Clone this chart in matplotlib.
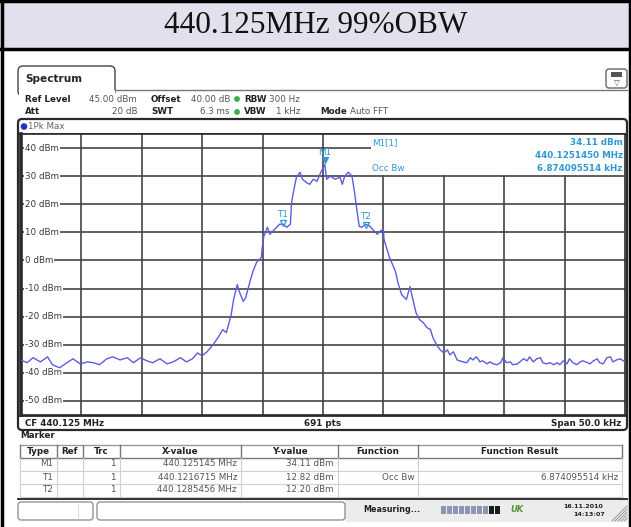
import matplotlib
matplotlib.use("Agg")
import matplotlib.pyplot as plt
from matplotlib.patches import Rectangle, FancyBboxPatch, Circle
import matplotlib.transforms as mtransforms

# ---------------- data ----------------
center_mhz = 440.125
span_khz = 50.0
n_points = 691
ref_level = 45.0
y_ticks = [40, 30, 20, 10, 0, -10, -20, -30, -40, -50]
x_grid_khz = [-20, -15, -10, -5, 0, 5, 10, 15, 20]

freq_khz = [-25.0, -24.5, -24.0, -23.4, -22.8, -22.4, -21.8, -21.2, -20.7, -20.1,
            -19.5, -19.0, -18.5, -17.9, -17.4, -16.8, -16.2, -15.7, -15.1, -14.6,
            -14.1, -13.5, -12.9, -12.4, -11.8, -11.3, -10.8, -10.4, -10.0, -9.6,
            -9.1, -8.7, -8.3, -8.0, -7.6, -7.4, -7.1, -6.9, -6.6, -6.4,
            -6.0, -5.8, -5.5, -5.1, -5.05, -4.9, -4.6, -4.4, -4.0, -3.6,
            -3.3, -3.0, -2.7, -2.6, -2.4, -2.2, -1.9, -1.7, -1.3, -1.1,
            -0.8, -0.5, -0.25, 0.15, 0.3, 0.6, 1.0, 1.4, 1.6, 1.8,
            2.1, 2.4, 2.6, 2.8, 3.0, 3.2, 3.55, 3.9, 4.1, 4.5,
            4.7, 5.0, 5.05, 5.3, 5.5, 6.0, 6.2, 6.5, 6.9, 7.2,
            7.5, 7.7, 8.0, 8.3, 8.6, 8.9, 9.1, 9.4, 9.7, 10.0,
            10.3, 10.5, 10.8, 11.1, 11.3, 11.6, 11.9, 12.2, 12.4, 12.7,
            13.0, 13.2, 13.6, 13.8, 14.1, 14.4, 14.7, 14.9, 15.2, 15.5,
            15.7, 16.1, 16.3, 16.6, 16.9, 17.1, 17.4, 17.7, 18.0, 18.2,
            18.5, 18.8, 19.1, 19.4, 19.6, 19.9, 20.2, 20.4, 20.7, 21.0,
            21.3, 21.5, 21.9, 22.1, 22.4, 22.7, 22.9, 23.2, 23.5, 23.8,
            24.0, 24.3, 24.6, 25.0]
level_dbm = [-35.4, -36.4, -34.6, -36.1, -34.3, -37.1, -38.2, -36.4, -35.0, -36.8,
             -36.1, -36.4, -37.1, -35.0, -34.3, -35.4, -34.6, -36.4, -34.6, -35.7,
             -36.4, -35.0, -36.8, -36.1, -34.6, -36.1, -35.0, -32.9, -33.9, -32.5,
             -30.0, -27.5, -24.6, -25.7, -19.3, -13.9, -8.6, -11.4, -14.6, -13.2,
             -6.8, -3.9, -0.7, 1.1, 3.9, 8.6, 11.8, 9.3, 11.1, 12.9,
             12.9, 11.8, 12.9, 20.7, 25.4, 29.6, 31.4, 28.9, 27.5, 27.1,
             28.9, 28.2, 30.7, 34.11, 28.9, 30.0, 28.9, 29.6, 27.1, 30.0,
             31.4, 30.0, 24.6, 18.2, 12.1, 11.8, 12.9, 12.1, 11.1, 9.3,
             10.4, 11.1, 7.5, 3.9, 1.1, -3.9, -7.9, -12.1, -13.9, -9.3,
             -15.0, -18.6, -21.1, -22.1, -23.9, -24.6, -27.5, -30.0, -31.8, -32.9,
             -31.8, -33.6, -32.5, -35.4, -35.7, -36.1, -36.4, -34.6, -35.4, -34.3,
             -36.1, -35.7, -36.8, -36.1, -36.8, -37.1, -36.4, -34.6, -36.4, -36.1,
             -37.1, -36.8, -36.1, -35.0, -35.7, -34.3, -36.1, -35.0, -34.6, -36.4,
             -36.8, -36.4, -37.1, -36.4, -37.1, -35.7, -36.8, -35.0, -36.4, -37.1,
             -36.1, -35.7, -36.4, -36.8, -35.7, -35.0, -36.4, -36.8, -34.6, -34.3,
             -36.1, -35.4, -35.0, -36.1]

marker_names = ["M1", "T1", "T2"]
marker_freq_mhz = [440.125145, 440.1216715, 440.1285456]
marker_dbm = [34.11, 12.82, 12.20]
marker_trc = [1, 1, 1]
marker_function = ["", "Occ Bw", ""]
occ_bw_khz = 6.874095514

# ---------------- figure ----------------
W, H = 631, 527
fig = plt.figure(figsize=(W / 100, H / 100), dpi=100)
plt.rcParams['font.family'] = ['DejaVu Sans']

bg = fig.add_axes([0, 0, 1, 1], zorder=0)
bg.set_xlim(0, W)
bg.set_ylim(H, 0)
bg.axis('off')

def fax(x0, y0, x1, y1):
    return [x0 / W, 1 - y1 / H, (x1 - x0) / W, (y1 - y0) / H]

DARK = '#2a2a2a'
GREY_TXT = '#555555'
CYAN = '#2f98d2'
FS = 6.3

# title band
bg.add_patch(Rectangle((0, 0), W, 48, facecolor='#e4dfec', edgecolor='none'))
bg.plot([0, W], [1.2, 1.2], color='black', lw=2.5)
bg.plot([0, W], [48.8, 48.8], color='black', lw=2.5)
bg.plot([1.5, 1.5], [0, H], color='black', lw=2.5)
bg.plot([629.5, 629.5], [0, H], color='black', lw=2.5)
bg.text(316, 25.5, "440.125MHz 99%OBW", family='Liberation Serif', fontsize=22.5,
        ha='center', va='center', color='#111111')

# Spectrum tab
tab = FancyBboxPatch((18, 66), 97, 30, boxstyle="round,pad=0,rounding_size=5",
                     facecolor='white', edgecolor='#444444', lw=1.0)
bg.add_patch(tab)
bg.add_patch(Rectangle((18.8, 89.5), 96, 8, facecolor='white', edgecolor='none'))
bg.plot([115, 627], [90, 90], color='#777777', lw=1.0)
bg.text(25, 78.5, "Spectrum", fontsize=7.6, fontweight='bold', va='center', color='#222222')

# top right icon
bg.add_patch(FancyBboxPatch((606, 69), 21, 19, boxstyle="round,pad=0,rounding_size=3",
                            facecolor='white', edgecolor='#666666', lw=1.0))
bg.add_patch(Rectangle((611, 72), 11, 5, facecolor='#555555', edgecolor='none'))
bg.text(616.5, 82.5, "▽", fontsize=5.5, ha='center', va='center', color='#555555')

# setting rows
def lab(x, y, s, bold=False, ha='left', color=None, fs=FS):
    bg.text(x, y, s, fontsize=fs, fontweight='bold' if bold else 'normal',
            ha=ha, va='center', color=color or ('#222222' if bold else GREY_TXT))

lab(25, 99, "Ref Level", True)
lab(137, 99, f"{ref_level:.2f} dBm", ha='right')
lab(151, 99, "Offset", True)
lab(230, 99, "40.00 dB", ha='right')
bg.add_patch(Circle((237, 99), 2.2, color='#3cae4a'))
lab(244, 99, "RBW", True)
lab(300, 99, "300 Hz", ha='right')
lab(25, 112, "Att", True)
lab(137, 112, "20 dB", ha='right')
lab(151, 112, "SWT", True)
lab(230, 112, "6.3 ms", ha='right')
bg.add_patch(Circle((237, 112), 2.2, color='#3cae4a'))
lab(244, 112, "VBW", True)
lab(300, 112, "1 kHz", ha='right')
lab(320, 112, "Mode", True)
lab(350, 112, "Auto FFT")

# graph outer rounded box
bg.add_patch(FancyBboxPatch((18, 119), 609, 311, boxstyle="round,pad=0,rounding_size=4",
                            facecolor='white', edgecolor=DARK, lw=1.6))
bg.add_patch(Circle((24, 126.5), 2.6, color='#2233cc'))
lab(28, 126.5, "1Pk Max", color='#666666')
bg.plot([18, 627], [133.5, 133.5], color=DARK, lw=1.3)
bg.plot([18, 627], [415.5, 415.5], color=DARK, lw=1.3)
bg.text(25, 423, f"CF {center_mhz:.3f} MHz", fontsize=FS, fontweight='bold', va='center', color='#222222')
bg.text(323, 423, f"{n_points} pts", fontsize=FS, fontweight='bold', va='center', ha='center', color='#222222')
bg.text(621, 423, f"Span {span_khz:.1f} kHz", fontsize=FS, fontweight='bold', va='center', ha='right', color='#222222')

# ---------------- spectrum plot ----------------
ax = fig.add_axes(fax(21, 134, 625, 415), zorder=1)
ax.set_xlim(-span_khz / 2, span_khz / 2)
ax.set_ylim(ref_level - 100, ref_level)
ax.set_facecolor('white')
ax.set_xticks([])
ax.set_yticks([])
for s in ['top', 'bottom', 'right']:
    ax.spines[s].set_color(DARK)
    ax.spines[s].set_linewidth(1.2)
ax.spines['left'].set_color(DARK)
ax.spines['left'].set_linewidth(2.6)

for v in y_ticks:
    ax.axhline(v, color='#444444', lw=1.2, zorder=1)
for v in x_grid_khz:
    ax.axvline(v, color='#444444', lw=1.2, zorder=1)

ytr = ax.get_yaxis_transform()
for v in y_ticks:
    ax.text(0.006, v, f"{v} dBm", transform=ytr, fontsize=FS, va='center', ha='left',
            color='#3a3a3a', zorder=3,
            bbox=dict(boxstyle='square,pad=0.12', facecolor='white', edgecolor='none'))

# marker info box (white area top right)
ax.add_patch(Rectangle((4.0, 30.4), 21.0, 14.6, facecolor='white', edgecolor='none', zorder=2))
ax.text(4.05, 41.9, "M1[1]", fontsize=FS, color=CYAN, va='center', ha='left', zorder=3)
ax.text(4.05, 32.6, "Occ Bw", fontsize=FS, color=CYAN, va='center', ha='left', zorder=3)
ax.text(24.8, 41.9, f"{marker_dbm[0]:.2f} dBm", fontsize=FS, color=CYAN, fontweight='bold',
        va='center', ha='right', zorder=3)
ax.text(24.8, 37.3, f"{marker_freq_mhz[0]:.7f} MHz", fontsize=FS, color=CYAN, fontweight='bold',
        va='center', ha='right', zorder=3)
ax.text(24.8, 32.6, f"{occ_bw_khz:.9f} kHz", fontsize=FS, color=CYAN, fontweight='bold',
        va='center', ha='right', zorder=3)

ax.plot(freq_khz, level_dbm, color='#5c5ce2', lw=1.0, zorder=4, solid_joinstyle='round')

# markers
mk_khz = [(f - center_mhz) * 1000 for f in marker_freq_mhz]
for name, fx, lv in zip(marker_names, mk_khz, marker_dbm):
    filled = name.startswith('M')
    tri_off = 3 if filled else 1
    ax.plot([fx], [lv], marker='v', markersize=4.5,
            markerfacecolor=CYAN if filled else 'none', markeredgecolor=CYAN,
            markeredgewidth=0.9, zorder=5,
            transform=ax.transData + mtransforms.ScaledTranslation(0, tri_off / 72, fig.dpi_scale_trans))
    ax.annotate(name, xy=(fx, lv), xytext=(0, 9 if filled else 7), textcoords='offset points',
                fontsize=FS, color=CYAN, ha='center', va='center', zorder=5)

# ---------------- marker table ----------------
lab(20, 435, "Marker", True)
cols = [20, 57, 83, 120, 241, 338, 418, 622]
headers = ["Type", "Ref", "Trc", "X-value", "Y-value", "Function", "Function Result"]
row_y = [451, 464, 477, 490]
bg.plot([cols[0], cols[-1]], [444.5, 444.5], color='#999999', lw=1.0)
bg.plot([cols[0], cols[-1]], [457.5, 457.5], color='#777777', lw=1.0)
for yy in [470.5, 483.5]:
    bg.plot([cols[0], cols[-1]], [yy, yy], color='#d0d0d0', lw=0.8)
bg.plot([cols[0], cols[-1]], [496.5, 496.5], color='#cccccc', lw=0.8)
for c in cols:
    bg.plot([c, c], [444.5, 457.5], color='#777777', lw=1.0)
    bg.plot([c, c], [457.5, 496.5], color='#d0d0d0', lw=0.8)
for i, h in enumerate(headers):
    bg.text((cols[i] + cols[i + 1]) / 2, row_y[0], h, fontsize=FS, fontweight='bold',
            ha='center', va='center', color='#222222')
for r, name in enumerate(marker_names):
    y = row_y[r + 1]
    vals = [name, "", str(marker_trc[r]), f"{marker_freq_mhz[r]} MHz",
            f"{marker_dbm[r]:.2f} dBm", marker_function[r],
            f"{occ_bw_khz:.9f} kHz" if marker_function[r] else ""]
    for i, v in enumerate(vals):
        bg.text(cols[i + 1] - 4, y, v, fontsize=FS, ha='right', va='center', color=GREY_TXT)
bg.plot([18, 627], [498.5, 498.5], color='#333333', lw=1.4)

# ---------------- status bar ----------------
bg.add_patch(Rectangle((345, 500), 283, 22, facecolor='#ececec', edgecolor='none'))
bg.add_patch(FancyBboxPatch((18, 502), 75, 18, boxstyle="round,pad=0,rounding_size=3",
                            facecolor='white', edgecolor='#888888', lw=0.9))
bg.plot([78, 78], [504, 518], color='#dddddd', lw=0.8)
bg.add_patch(FancyBboxPatch((97, 502), 248, 18, boxstyle="round,pad=0,rounding_size=3",
                            facecolor='white', edgecolor='#888888', lw=0.9))
lab(363, 510, "Measuring...", True, fs=5.8)
for k in range(10):
    bg.add_patch(Rectangle((441 + k * 6, 506), 5, 8,
                           facecolor='#8a96b4' if k < 8 else '#1a1a1a', edgecolor='none'))
bg.text(517, 510, "UK", fontsize=6, fontweight='bold', style='italic', color='#4d9a3a',
        ha='center', va='center')
bg.text(583, 506, "16.11.2010", fontsize=4.6, fontweight='bold', ha='center', va='center', color='#222222')
bg.text(589, 515, "14:13:07", fontsize=4.6, fontweight='bold', ha='center', va='center', color='#222222')
for k in range(5):
    bg.plot([627, 612 + k * 3], [506 + k * 3, 521], color='#999999', lw=0.7)

fig.savefig("out.png", dpi=100)
